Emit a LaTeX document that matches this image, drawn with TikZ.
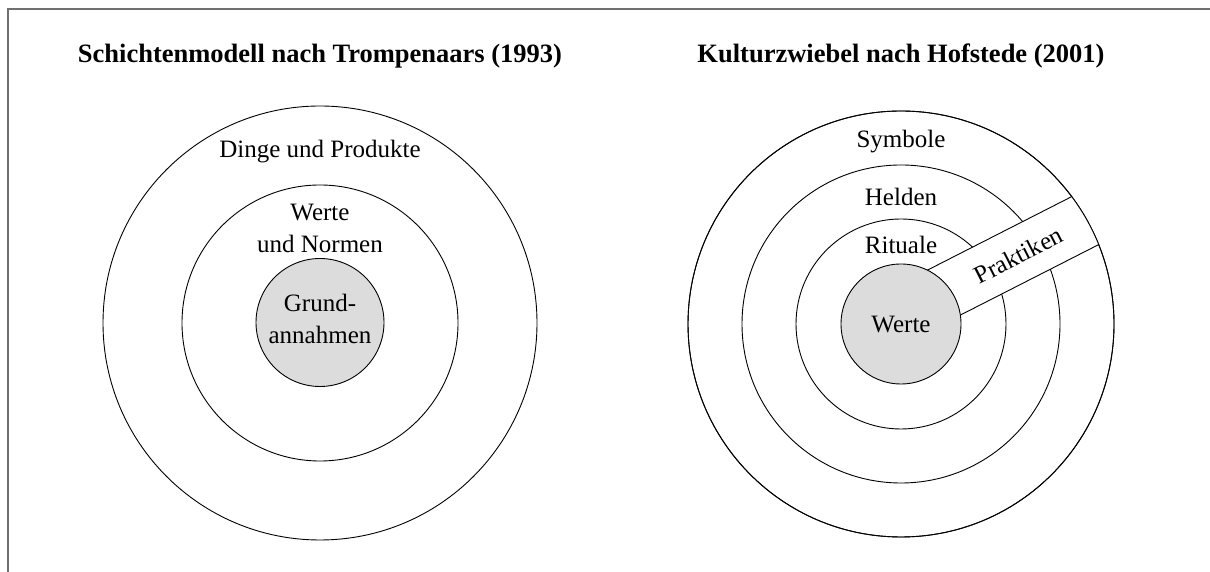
\documentclass[tikz,border=0pt]{standalone}
\usepackage{fontspec}
\setmainfont{Liberation Serif}
\definecolor{coregray}{HTML}{DCDCDC}
\definecolor{framegray}{HTML}{707070}
\begin{document}
\begin{tikzpicture}[x=1pt,y=1pt,
  ring/.style={circle, draw=black, line width=0.9pt, inner sep=0pt, minimum size=#1},
  core/.style={ring=#1, fill=coregray},
  lbl/.style={font=\fontsize{25}{32}\selectfont, align=center, inner sep=0pt},
  ttl/.style={font=\fontsize{26.5}{32}\selectfont\bfseries, inner sep=0pt},
  frameline/.style={draw=framegray, line width=1.5pt},
  bandline/.style={draw=black, line width=0.9pt}]
\useasboundingbox (0,0) rectangle (1210,572);

% outer frame (left and top edges)
\coordinate (fb) at (8,-2);
\coordinate (fc) at (8,563);
\coordinate (fr) at (1212,563);
\draw[frameline] (fb) -- (fc) -- (fr);

% ---------- layer model (Trompenaars) ----------
\coordinate (CL) at (320,249);
\node[ttl] (titleL) at (320,516) {Schichtenmodell nach Trompenaars (1993)};
\node[ring=434pt] (L1) at (CL) {};
\node[ring=276pt] (L2) at (CL) {};
\node[core=128pt] (L3) at (320,249.5) {};
\node[lbl] (lblL1) at (320,420) {Dinge und Produkte};
\node[lbl] (lblL2) at (320,344) {Werte\\und Normen};
\node[lbl] (lblL3) at (320,253) {Grund-\\annahmen};

% ---------- onion model (Hofstede) ----------
\coordinate (CR) at (901,248);
\node[ttl] (titleR) at (901,516) {Kulturzwiebel nach Hofstede (2001)};
\node[ring=426pt, fill=white] (R1) at (CR) {};
\node[ring=318pt] (R2) at (CR) {};
\node[ring=210pt] (R3) at (CR) {};
% practices band cutting through the outer layers
\begin{scope}
  \clip (CR) circle (213);
  \begin{scope}[shift={(CR)}, rotate=27]
    \coordinate (b1) at (0,-19);
    \coordinate (b2) at (250,-19);
    \coordinate (b3) at (0,36);
    \coordinate (b4) at (250,36);
    \fill[white] (b1) rectangle (b4);
    \draw[bandline] (b1) -- (b2);
    \draw[bandline] (b3) -- (b4);
  \end{scope}
\end{scope}
\node[ring=426pt] (R1o) at (CR) {};
\node[core=120pt] (R4) at (CR) {};
\node[lbl] (lblR1) at (901,430) {Symbole};
\node[lbl] (lblR2) at (901,375) {Helden};
\node[lbl] (lblR3) at (901,327) {Rituale};
\node[lbl] (lblR4) at (901,247) {Werte};
\begin{scope}[shift={(CR)}, rotate=27]
  \node[lbl, rotate=27] (prak) at (136,8) {Praktiken};
\end{scope}
\end{tikzpicture}
\end{document}
